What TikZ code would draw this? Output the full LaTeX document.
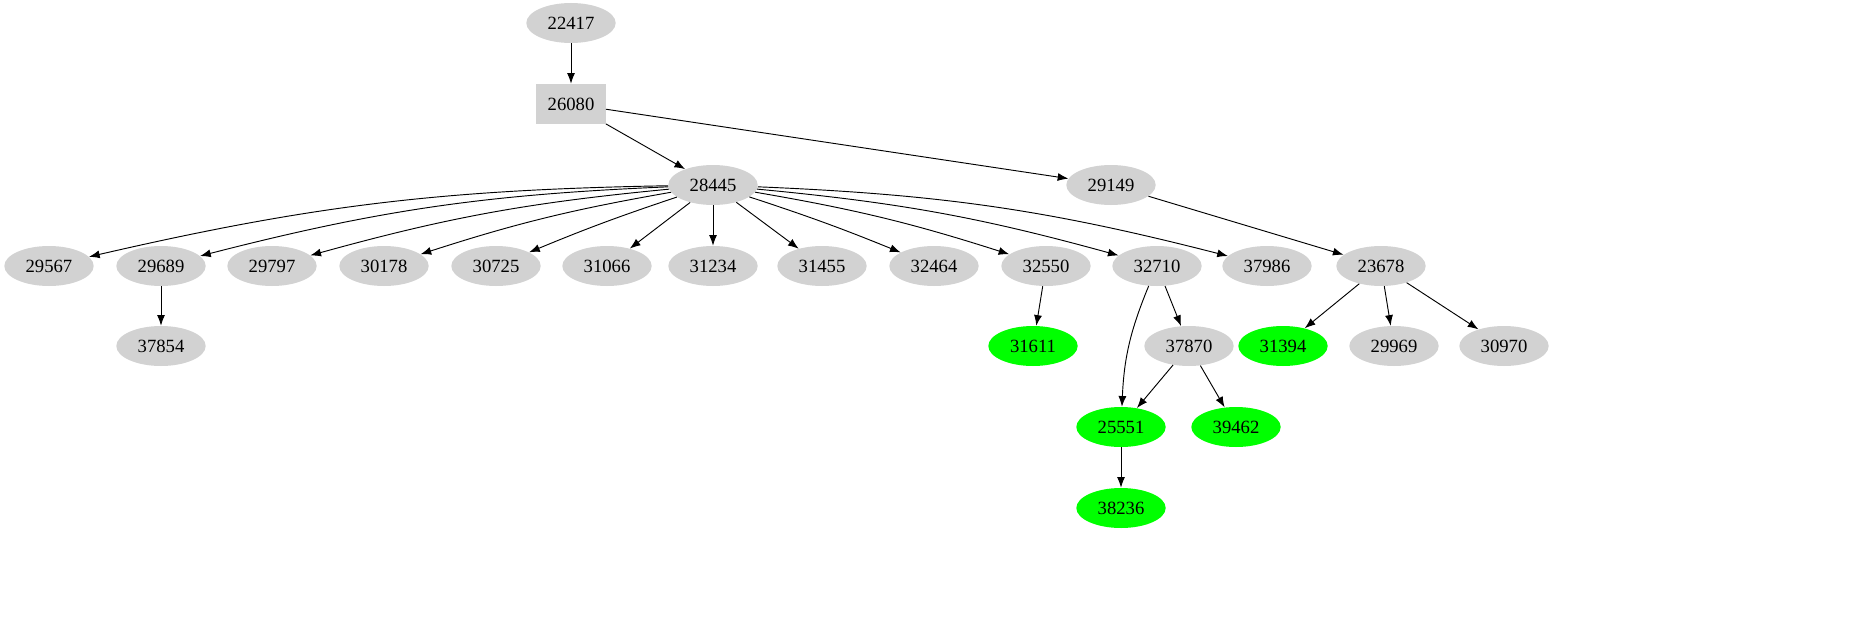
\documentclass[tikz,border=0pt]{standalone}
\usepackage{fontspec}
\setmainfont{Liberation Serif}
\usetikzlibrary{shapes.geometric,arrows.meta}
\begin{document}
\begin{tikzpicture}[x=0.75pt,y=-0.75pt,
  nd/.style={ellipse,fill=gray!35,minimum width=67pt,minimum height=30pt,inner sep=0pt,font=\fontsize{14}{16}\selectfont},
  gn/.style={nd,fill=green},
  bx/.style={rectangle,fill=gray!35,minimum width=52pt,minimum height=30pt,font=\fontsize{14}{16}\selectfont},
  ed/.style={-{Latex[length=8pt,width=6pt]},line width=0.7pt}]
\useasboundingbox (0,0) rectangle (1870,635);
\node[nd] (n22417) at (571,23) {22417};
\node[bx] (n26080) at (571,104) {26080};
\node[nd] (n28445) at (713,185) {28445};
\node[nd] (n29149) at (1111,185) {29149};
\node[nd] (n29567) at (49,266) {29567};
\node[nd] (n29689) at (161,266) {29689};
\node[nd] (n29797) at (272,266) {29797};
\node[nd] (n30178) at (384,266) {30178};
\node[nd] (n30725) at (496,266) {30725};
\node[nd] (n31066) at (607,266) {31066};
\node[nd] (n31234) at (713,266) {31234};
\node[nd] (n31455) at (822,266) {31455};
\node[nd] (n32464) at (934,266) {32464};
\node[nd] (n32550) at (1046,266) {32550};
\node[nd] (n32710) at (1157,266) {32710};
\node[nd] (n37986) at (1267,266) {37986};
\node[nd] (n23678) at (1381,266) {23678};
\node[nd] (n37854) at (161,346) {37854};
\node[gn] (n31611) at (1033,346) {31611};
\node[nd] (n37870) at (1189,346) {37870};
\node[gn] (n31394) at (1283,346) {31394};
\node[nd] (n29969) at (1394,346) {29969};
\node[nd] (n30970) at (1504,346) {30970};
\node[gn] (n25551) at (1121,427) {25551};
\node[gn] (n39462) at (1236,427) {39462};
\node[gn] (n38236) at (1121,508) {38236};
\draw[ed] (n22417)--(n26080);
\draw[ed] (n26080)--(n28445);
\draw[ed] (n26080)--(n29149);
\draw[ed] (n28445) to[bend right=6] (n29567);
\draw[ed] (n28445) to[bend right=6] (n29689);
\draw[ed] (n28445) to[bend right=5] (n29797);
\draw[ed] (n28445) to[bend right=4] (n30178);
\draw[ed] (n28445) to[bend right=2] (n30725);
\draw[ed] (n28445)--(n31066);
\draw[ed] (n28445)--(n31234);
\draw[ed] (n28445)--(n31455);
\draw[ed] (n28445) to[bend left=2] (n32464);
\draw[ed] (n28445) to[bend left=4] (n32550);
\draw[ed] (n28445) to[bend left=5] (n32710);
\draw[ed] (n28445) to[bend left=6] (n37986);
\draw[ed] (n29149)--(n23678);
\draw[ed] (n29689)--(n37854);
\draw[ed] (n32550)--(n31611);
\draw[ed] (n32710) to[bend right=10] (n25551);
\draw[ed] (n32710)--(n37870);
\draw[ed] (n37870)--(n25551);
\draw[ed] (n37870)--(n39462);
\draw[ed] (n25551)--(n38236);
\draw[ed] (n23678)--(n31394);
\draw[ed] (n23678)--(n29969);
\draw[ed] (n23678)--(n30970);
\end{tikzpicture}
\end{document}
